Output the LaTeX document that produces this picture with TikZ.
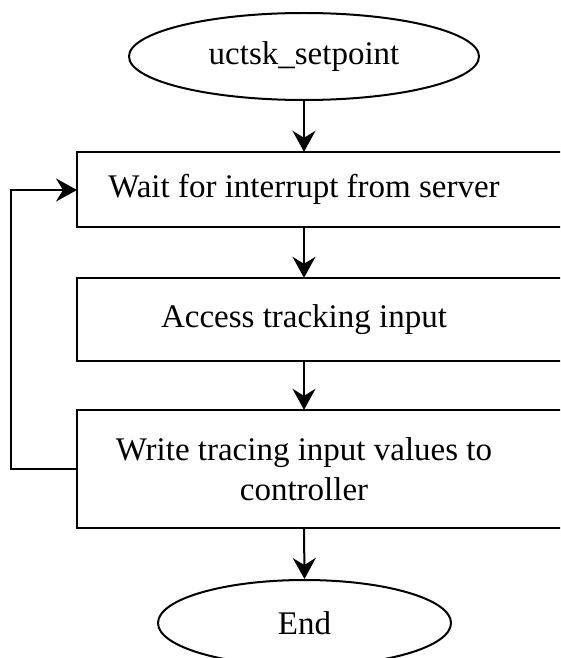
\documentclass[tikz,border=0pt]{standalone}
\usepackage{fontspec}
\setmainfont{Liberation Serif}
\usetikzlibrary{arrows.meta,shapes.geometric,calc}
\begin{document}
\begin{tikzpicture}[x=1pt,y=1pt,
  every node/.style={font=\fontsize{33}{40}\selectfont},
  term/.style={ellipse,draw,line width=2pt,inner sep=0pt},
  procbox/.style={draw,line width=2pt},
  flow/.style={line width=2pt,-{Stealth[length=21pt,width=23pt,inset=7pt]}}]
\useasboundingbox (0,0) rectangle (560,-658);
\clip (0,0) rectangle (560,-658);
\node[term,minimum width=350pt,minimum height=87pt] (start) at (304,-56.5) {uctsk\_setpoint};
\node[minimum height=75pt,inner sep=0pt] (b1) at (304,-189.5) {Wait for interrupt from server};
\node[minimum height=83pt,inner sep=0pt] (b2) at (304,-319.5) {Access tracking input};
\node[minimum height=118pt,inner sep=0pt,align=center] (b3) at (304,-469) {Write tracing input values to\\controller};
\node[term,minimum width=293pt,minimum height=86pt] (end) at (304.5,-623) {End};
\draw[procbox] (77,-152) rectangle (640,-227);
\draw[procbox] (77,-278) rectangle (640,-361);
\draw[procbox] (77,-410) rectangle (640,-528);
\coordinate (l1) at (77,-190);
\coordinate (l3) at (77,-469);
\draw[flow] (start.south) -- (b1.north);
\draw[flow] (b1.south) -- (b2.north);
\draw[flow] (b2.south) -- (b3.north);
\draw[flow] (b3.south) -- (end.north);
\draw[flow] (l3) -- (11,-469) -- (11,-190) -- (l1);
\end{tikzpicture}
\end{document}
